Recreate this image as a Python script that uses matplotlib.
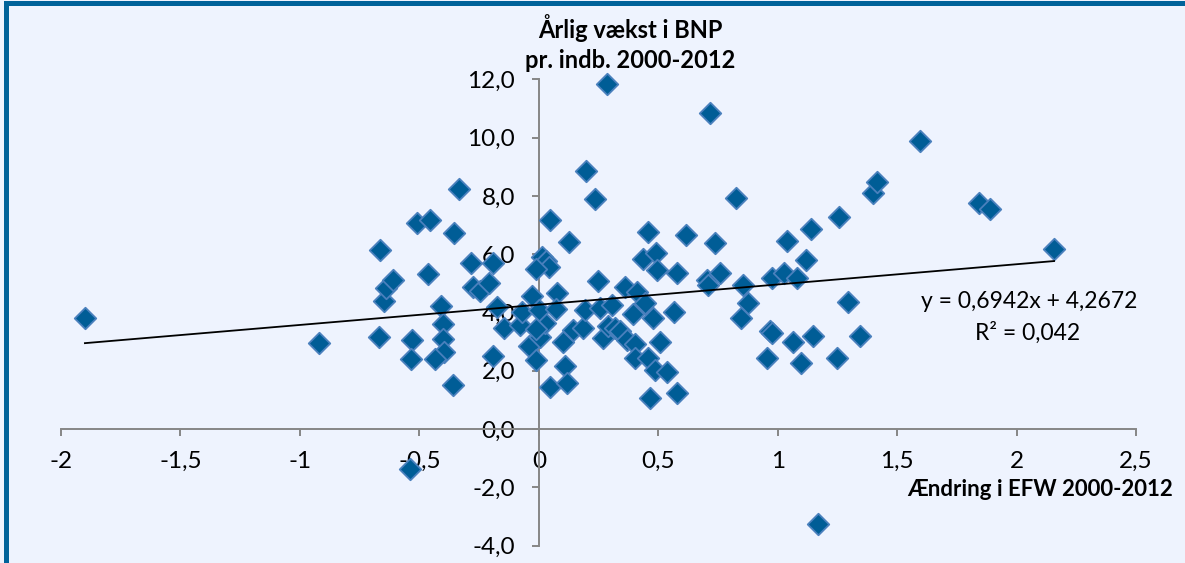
import numpy as np
import matplotlib
matplotlib.use("Agg")
import matplotlib.pyplot as plt
from matplotlib.patches import Rectangle
from matplotlib.ticker import FixedLocator, FuncFormatter

plt.rcParams['font.family'] = ['Lato', 'DejaVu Sans']

# Change in EFW 2000-2012 (x) vs. annual GDP growth per capita 2000-2012 (y)
efw_change = [
    -1.90, -0.92, -0.67, -0.65, -0.64, -0.61, -0.665, -0.51, -0.455, -0.335,
    -0.355, -0.465, -0.285, -0.19, -0.275, -0.245, -0.21, -0.41, -0.40, -0.40,
    -0.395, -0.435, -0.53, -0.535, -0.36, -0.19, -0.175, -0.145, -0.08, -0.07,
    -0.03, -0.04, -0.01, 0.005, 0.026, 0.0, -0.01, 0.015, 0.03, 0.043,
    -0.01, 0.075, 0.07, 0.047, 0.103, 0.11, 0.117, 0.144, 0.186, 0.193,
    0.047, 0.126, 0.196, 0.235, 0.284, 0.246, 0.256, 0.307, 0.27, 0.29,
    0.319, 0.34, 0.368, 0.361, 0.41, 0.445, 0.396, 0.477, 0.567, 0.507,
    0.403, 0.403, 0.458, 0.486, 0.537, 0.466, 0.577, 0.437, 0.489, 0.496,
    0.577, 0.458, 0.616, 0.738, 0.825, 0.717, 0.703, 0.71, 0.759, 0.856,
    0.877, 0.845, 0.968, 0.978, 1.065, 1.146, 1.344, 0.957, 1.096, 1.247,
    1.296, 0.975, 1.026, 1.08, 1.118, 1.038, 1.138, 1.257, 1.398, 1.414,
    1.596, 1.844, 1.889, 2.157, 1.167, -0.539,
]
gdp_growth = [
    3.80, 2.96, 3.17, 4.40, 4.83, 5.11, 6.14, 7.08, 7.17, 8.23,
    6.72, 5.31, 5.71, 5.69, 4.89, 4.75, 5.02, 4.22, 3.62, 3.10,
    2.66, 2.40, 3.07, 2.40, 1.53, 2.51, 4.20, 3.46, 3.57, 4.03,
    4.58, 2.84, 2.36, 3.17, 3.63, 4.09, 3.42, 5.90, 5.75, 5.55,
    5.50, 4.68, 4.12, 1.44, 2.98, 2.17, 1.59, 3.40, 3.46, 4.10,
    7.18, 6.42, 8.86, 7.88, 11.84, 5.09, 4.17, 4.24, 3.11, 3.53,
    3.46, 3.37, 3.06, 4.87, 4.71, 4.33, 3.96, 3.80, 4.03, 2.98,
    2.92, 2.43, 2.43, 2.04, 1.97, 1.08, 1.25, 5.84, 6.05, 5.46,
    5.37, 6.77, 6.66, 6.39, 7.92, 10.85, 5.11, 4.96, 5.34, 4.94,
    4.34, 3.82, 3.36, 3.30, 2.99, 3.18, 3.19, 2.44, 2.26, 2.45,
    4.37, 5.19, 5.37, 5.17, 5.80, 6.45, 6.86, 7.27, 8.09, 8.49,
    9.89, 7.75, 7.54, 6.17, -3.27, -1.38,
]

# Linear trendline as reported in the chart
slope = 0.6942
intercept = 4.2672
r_squared = 0.042

x_ticks = [-2, -1.5, -1, -0.5, 0, 0.5, 1, 1.5, 2, 2.5]
y_ticks = [-4, -2, 0, 2, 4, 6, 8, 10, 12]

bg = '#eef3fe'
frame = '#00629a'
axis_gray = '#868686'

fig = plt.figure(figsize=(11.85, 5.63), dpi=100, facecolor=bg)
ax = fig.add_axes([0.0515, 0.0307, 0.9072, 0.8285])
ax.set_facecolor(bg)

ax.scatter(efw_change, gdp_growth, marker='D', s=120, color='#005d96',
           edgecolors='#4a80bd', linewidths=1.3, zorder=3, clip_on=False)

xs = np.array([min(efw_change), max(efw_change)])
ax.plot(xs, slope * xs + intercept, color='black', lw=1.3, zorder=4)

ax.set_xlim(-2, 2.5)
ax.set_ylim(-4, 12)

for side in ['top', 'right']:
    ax.spines[side].set_visible(False)
ax.spines['left'].set_position(('data', 0))
ax.spines['bottom'].set_position(('data', 0))
for side in ['left', 'bottom']:
    ax.spines[side].set_color(axis_gray)
    ax.spines[side].set_linewidth(1.4)

ax.xaxis.set_major_locator(FixedLocator(x_ticks))
ax.yaxis.set_major_locator(FixedLocator(y_ticks))
ax.xaxis.set_major_formatter(FuncFormatter(lambda v, p: ('%g' % v).replace('.', ',')))
ax.yaxis.set_major_formatter(FuncFormatter(lambda v, p: ('%.1f' % v).replace('.', ',')))
ax.tick_params(axis='both', direction='out', length=5, width=1.4,
               color=axis_gray, labelsize=17.5, labelcolor='black')
ax.tick_params(axis='x', pad=11)
ax.tick_params(axis='y', pad=12)

fig.text(0.5316, 1 - 28 / 563, 'Årlig vækst i BNP', ha='center', va='center',
         fontsize=17, fontweight='bold')
fig.text(0.5316, 1 - 60 / 563, 'pr. indb. 2000-2012', ha='center', va='center',
         fontsize=17, fontweight='bold')
fig.text(0.9899, 1 - 490 / 563, 'Ændring i EFW 2000-2012', ha='right', va='center',
         fontsize=16, fontweight='bold')

fig.text(0.8684, 1 - 302 / 563, 'y = 0,6942x + 4,2672', ha='center', va='center',
         fontsize=16.5)
fig.text(0.8675, 1 - 333 / 563, 'R² = 0,042', ha='center', va='center',
         fontsize=16.5)

fig.patches.append(Rectangle((5.5 / 1185, -0.01), 1.1, 1 - 2.5 / 563 + 0.01,
                             transform=fig.transFigure, fill=False,
                             edgecolor=frame, linewidth=3.6, zorder=10))

fig.savefig('out.png', dpi=100, facecolor=bg)
